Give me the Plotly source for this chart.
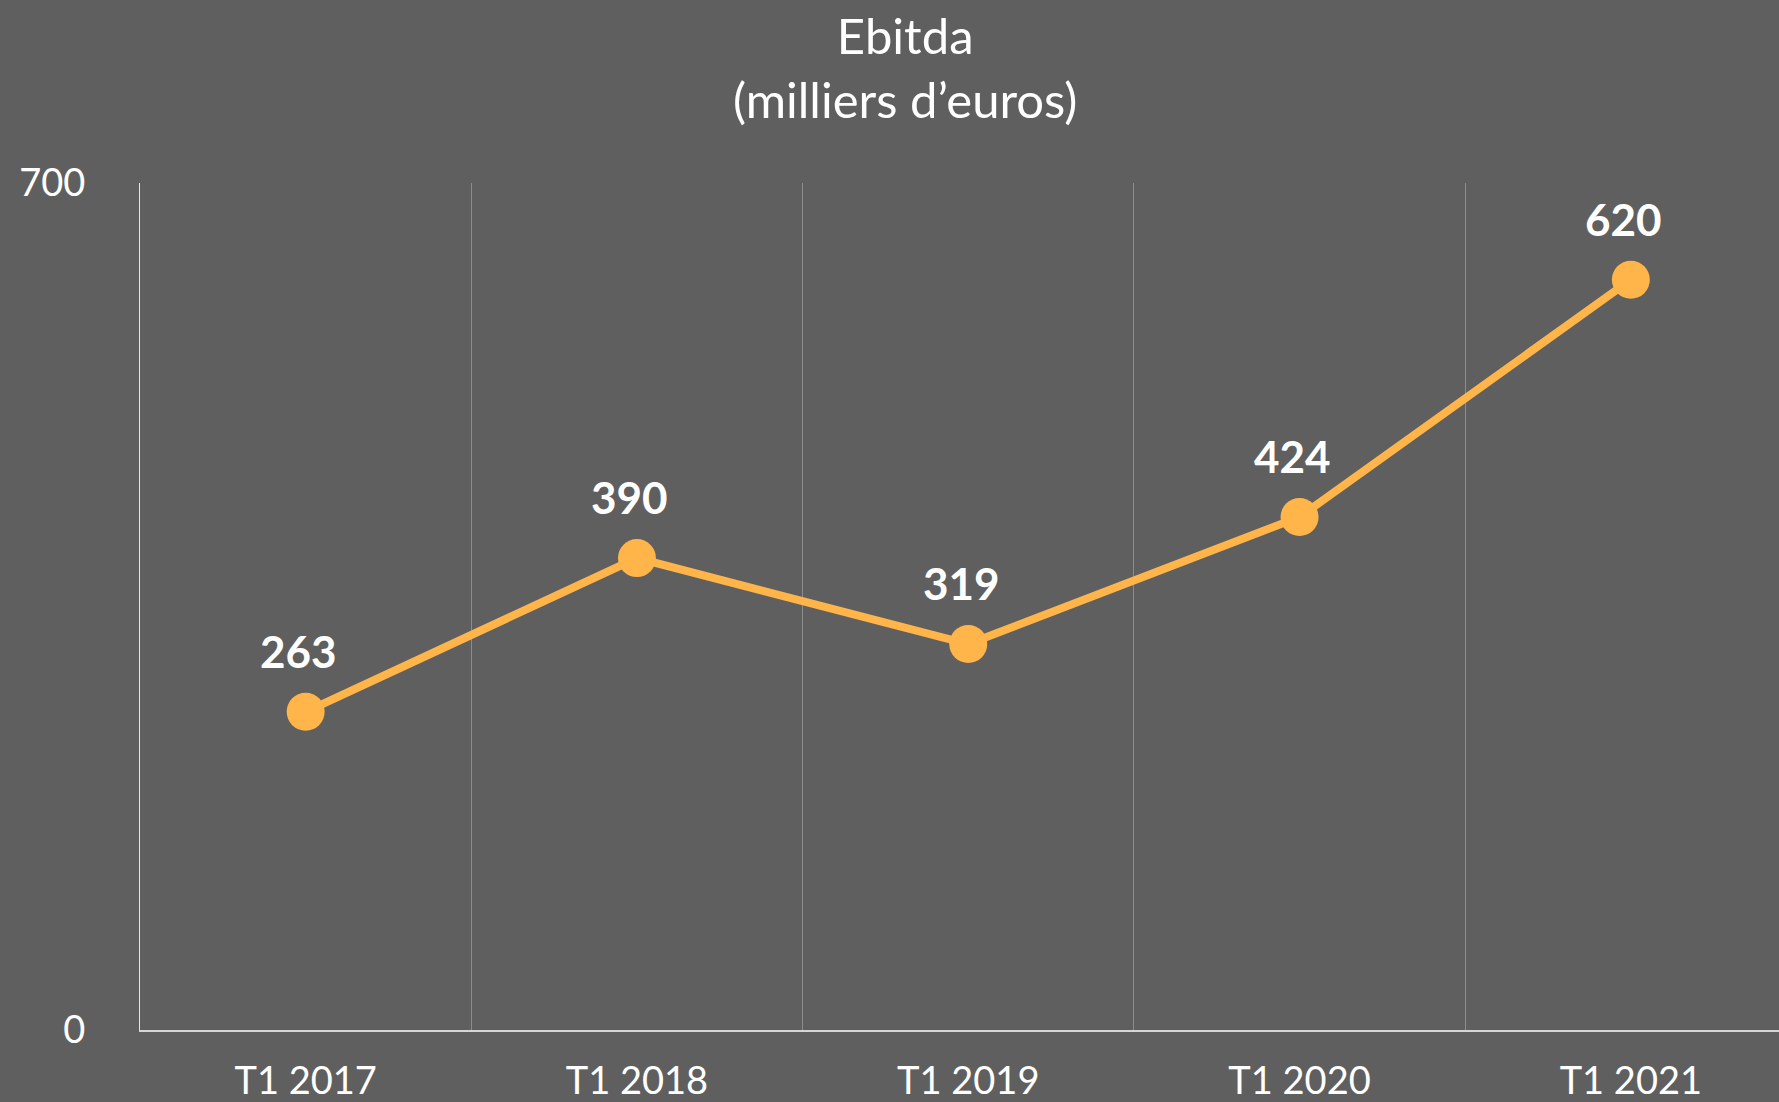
import plotly.graph_objects as go

categories = ["T1 2017", "T1 2018", "T1 2019", "T1 2020", "T1 2021"]
ebitda = [263, 390, 319, 424, 620]
y_ticks = [0, 700]
title_lines = ["Ebitda", "(milliers d’euros)"]

W, H = 1779, 1102
BG = "#5f5f5f"
ORANGE = "#FFB54A"
FONT = "Lato"
ML, MT, MB = 140, 183, 72
PH = H - MT - MB

fig = go.Figure()
fig.add_trace(go.Scatter(
    x=categories, y=ebitda, mode="lines+markers",
    line=dict(color=ORANGE, width=8),
    marker=dict(color=ORANGE, size=38),
    hoverinfo="skip", showlegend=False,
))

for c, v in zip(categories, ebitda):
    fig.add_annotation(
        x=c, y=v, text=str(v), showarrow=False,
        xanchor="center", yanchor="bottom", xshift=-7, yshift=33,
        font=dict(family=FONT, size=44, color="white", weight="bold"),
    )

# title as paper annotation for precise placement
fig.add_annotation(
    text="<br>".join(title_lines), showarrow=False,
    xref="paper", yref="paper", x=(905 - ML) / (W - ML), y=1 + (MT - 4) / PH,
    xanchor="center", yanchor="top",
    font=dict(family=FONT, size=49, color="white"),
)

fig.update_layout(
    width=W, height=H,
    paper_bgcolor=BG, plot_bgcolor=BG,
    margin=dict(l=ML, r=0, t=MT, b=MB, autoexpand=False),
    font=dict(family=FONT, color="white"),
)

fig.update_xaxes(
    type="category", range=[-0.5, -0.5 + (W - ML) / 331.3],
    tickson="boundaries", showgrid=True, gridcolor="#8c8c8c", gridwidth=1,
    showline=True, linecolor="#d6d6d6", linewidth=2,
    ticks="", tickfont=dict(family=FONT, size=38, color="white"),
    ticklabelstandoff=16, automargin=False, zeroline=False,
)
fig.update_yaxes(
    range=[0, 700], tickvals=y_ticks, showgrid=False, zeroline=False,
    showline=True, linecolor="#e6e6e6", linewidth=1,
    ticks="", tickfont=dict(family=FONT, size=38, color="white"),
    ticklabelstandoff=46, automargin=False,
)

fig.write_html(
    "out.html",
    config={"displayModeBar": False},
    post_script="document.body.style.margin='0';document.body.style.overflow='hidden';",
)
